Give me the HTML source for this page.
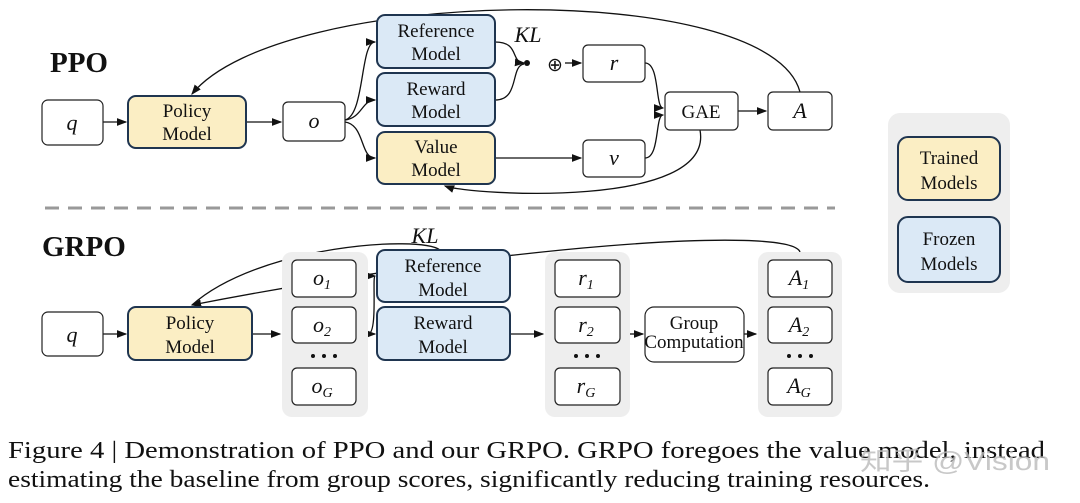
<!DOCTYPE html>
<html><head><meta charset="utf-8"><style>
body{margin:0;background:#fff;width:1080px;height:503px;overflow:hidden}
svg{display:block}
text{font-family:"Liberation Serif",serif;fill:#111}
.m{font-size:19px;text-anchor:middle}
.i{font-style:italic;font-size:22px;text-anchor:middle}
</style></head><body>
<svg width="1080" height="503" viewBox="0 0 1080 503">
<defs><marker id="a" markerWidth="8" markerHeight="8" refX="7" refY="4" orient="auto"><path d="M0,1 L8,4 L0,7z" fill="#111"/></marker></defs>
<g stroke="#111" stroke-width="1.3" fill="none">
<!-- PPO -->
<path d="M800,92 C770,-22 280,-14 192,94" marker-end="url(#a)"/>
<path d="M103,122 H126" marker-end="url(#a)"/>
<path d="M246,122 H281" marker-end="url(#a)"/>
<path d="M345,120 C365,115 360,42 375,42" marker-end="url(#a)"/>
<path d="M345,120 C362,118 362,100 375,100" marker-end="url(#a)"/>
<path d="M345,122 C365,125 360,158 375,158" marker-end="url(#a)"/>
<path d="M495,42 C520,42 510,62 524,63" marker-end="url(#a)"/>
<path d="M495,100 C520,100 510,66 524,64"/>
<path d="M565,63 H581" marker-end="url(#a)"/>
<path d="M645,63 C660,63 655,108 663,108" marker-end="url(#a)"/>
<path d="M645,158 C660,158 655,115 663,115" marker-end="url(#a)"/>
<path d="M495,158 H581" marker-end="url(#a)"/>
<path d="M738,111 H766" marker-end="url(#a)"/>
<path d="M700,130 C715,210 470,195 445,186" marker-end="url(#a)"/>
<!-- GRPO -->
<path d="M800,252 C790,225 500,245 192,305" marker-end="url(#a)"/>
<path d="M440,250 C420,235 260,245 192,305"/>
<path d="M103,334 H126" marker-end="url(#a)"/>
<path d="M252,334 H280" marker-end="url(#a)"/>
<path d="M368,334 C378,334 372,276 375,276" marker-end="url(#a)"/>
<path d="M368,334 H375" marker-end="url(#a)"/>
<path d="M510,334 H543" marker-end="url(#a)"/>
<path d="M630,334 H643" marker-end="url(#a)"/>
<path d="M744,334 H756" marker-end="url(#a)"/>
</g>
<circle cx="527" cy="63" r="3" fill="#111"/>
<text x="555" y="71" class="m" font-size="24">⊕</text>
<text x="528" y="42" class="i" font-size="17">KL</text>
<text x="425" y="243" class="i" font-size="17">KL</text>
<text x="50" y="72" font-size="29" font-weight="bold">PPO</text>
<text x="42" y="256" font-size="29" font-weight="bold">GRPO</text>
<line x1="45" y1="208" x2="835" y2="208" stroke="#999" stroke-width="3" stroke-dasharray="14,9"/>
<g stroke="#222" stroke-width="1.2" fill="#fff">
<rect x="42" y="100" width="61" height="45" rx="6"/>
<rect x="283" y="102" width="62" height="39" rx="5"/>
<rect x="583" y="45" width="62" height="37" rx="5"/>
<rect x="583" y="140" width="62" height="37" rx="5"/>
<rect x="665" y="92" width="73" height="38" rx="5"/>
<rect x="768" y="92" width="64" height="38" rx="5"/>
<rect x="42" y="312" width="61" height="44" rx="6"/>
</g>
<g fill="#eee">
<rect x="282" y="252" width="86" height="165" rx="10"/>
<rect x="545" y="252" width="85" height="165" rx="10"/>
<rect x="758" y="252" width="84" height="165" rx="10"/>
<rect x="888" y="113" width="122" height="180" rx="12"/>
</g>
<g stroke="#222" stroke-width="1.2" fill="#fff">
<rect x="292" y="260" width="64" height="37" rx="5"/><rect x="292" y="307" width="64" height="36" rx="5"/><rect x="292" y="368" width="64" height="37" rx="5"/>
<rect x="555" y="260" width="65" height="37" rx="5"/><rect x="555" y="307" width="65" height="36" rx="5"/><rect x="555" y="368" width="65" height="37" rx="5"/>
<rect x="768" y="260" width="64" height="37" rx="5"/><rect x="768" y="307" width="64" height="36" rx="5"/><rect x="768" y="368" width="64" height="37" rx="5"/>
<rect x="645" y="307" width="99" height="55" rx="9"/>
</g>
<g stroke="#1f3550" stroke-width="2">
<rect x="128" y="96" width="118" height="52" rx="8" fill="#fbeec4"/>
<rect x="377" y="15" width="118" height="53" rx="8" fill="#dbe9f6"/>
<rect x="377" y="73" width="118" height="53" rx="8" fill="#dbe9f6"/>
<rect x="377" y="132" width="118" height="52" rx="8" fill="#fbeec4"/>
<rect x="128" y="307" width="124" height="53" rx="8" fill="#fbeec4"/>
<rect x="377" y="250" width="133" height="52" rx="8" fill="#dbe9f6"/>
<rect x="377" y="307" width="133" height="53" rx="8" fill="#dbe9f6"/>
<rect x="898" y="137" width="102" height="63" rx="10" fill="#fbeec4"/>
<rect x="898" y="217" width="102" height="65" rx="10" fill="#dbe9f6"/>
</g>
<text x="72" y="130" class="i">q</text>
<text x="187" y="117" class="m">Policy</text><text x="187" y="140" class="m">Model</text>
<text x="314" y="128" class="i">o</text>
<text x="436" y="37" class="m">Reference</text><text x="436" y="60" class="m">Model</text>
<text x="436" y="95" class="m">Reward</text><text x="436" y="118" class="m">Model</text>
<text x="436" y="153" class="m">Value</text><text x="436" y="176" class="m">Model</text>
<text x="614" y="70" class="i">r</text>
<text x="614" y="165" class="i">v</text>
<text x="701" y="118" class="m">GAE</text>
<text x="800" y="118" class="i">A</text>
<text x="72" y="342" class="i">q</text>
<text x="190" y="329" class="m">Policy</text><text x="190" y="353" class="m">Model</text>
<text x="443" y="272" class="m">Reference</text><text x="443" y="296" class="m">Model</text>
<text x="443" y="329" class="m">Reward</text><text x="443" y="353" class="m">Model</text>
<text x="694" y="329" class="m" font-size="16">Group</text><text x="694" y="348" class="m" font-size="16">Computation</text>
<text x="949" y="164" class="m">Trained</text><text x="949" y="189" class="m">Models</text>
<text x="949" y="245" class="m">Frozen</text><text x="949" y="270" class="m">Models</text>
<text x="322" y="285" class="i">o<tspan font-size="14" dy="4">1</tspan></text>
<text x="322" y="332" class="i">o<tspan font-size="14" dy="4">2</tspan></text>
<text x="322" y="393" class="i">o<tspan font-size="14" dy="4">G</tspan></text>
<text x="586" y="285" class="i">r<tspan font-size="14" dy="4">1</tspan></text>
<text x="586" y="332" class="i">r<tspan font-size="14" dy="4">2</tspan></text>
<text x="586" y="393" class="i">r<tspan font-size="14" dy="4">G</tspan></text>
<text x="799" y="285" class="i">A<tspan font-size="14" dy="4">1</tspan></text>
<text x="799" y="332" class="i">A<tspan font-size="14" dy="4">2</tspan></text>
<text x="799" y="393" class="i">A<tspan font-size="14" dy="4">G</tspan></text>
<g fill="#111"><circle cx="313" cy="356" r="2"/><circle cx="324" cy="356" r="2"/><circle cx="335" cy="356" r="2"/>
<circle cx="576" cy="356" r="2"/><circle cx="587" cy="356" r="2"/><circle cx="598" cy="356" r="2"/>
<circle cx="789" cy="356" r="2"/><circle cx="800" cy="356" r="2"/><circle cx="811" cy="356" r="2"/></g>
<text x="8" y="458" font-size="24" textLength="1037" lengthAdjust="spacingAndGlyphs">Figure 4 | Demonstration of PPO and our GRPO. GRPO foregoes the value model, instead</text>
<text x="8" y="487" font-size="24" textLength="922" lengthAdjust="spacingAndGlyphs">estimating the baseline from group scores, significantly reducing training resources.</text>
<text x="860" y="470" font-size="26" textLength="190" lengthAdjust="spacingAndGlyphs" style="font-family:'Liberation Sans','Noto Sans CJK SC',sans-serif;fill:#bbb;opacity:.8">知乎 @Vision</text>
</svg>
</body></html>
